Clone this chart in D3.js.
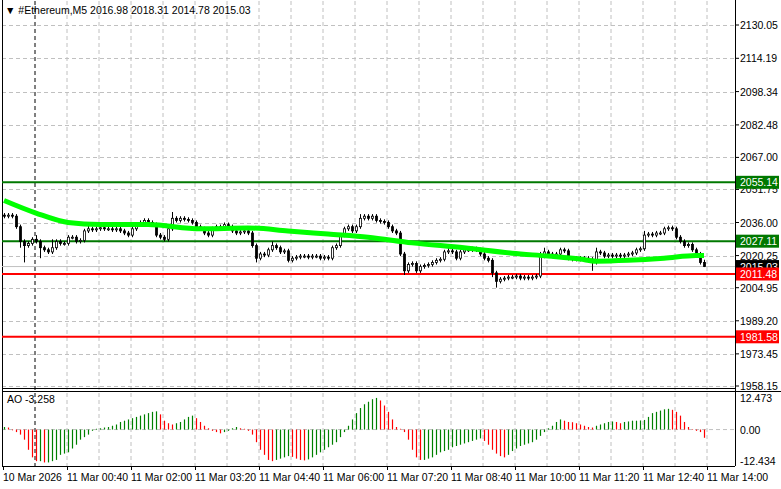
<!DOCTYPE html>
<html><head><meta charset="utf-8">
<script src="https://cdn.jsdelivr.net/npm/d3@7"></script>
<style>body{margin:0;background:#fff}svg{display:block}text{font-family:"Liberation Sans",Arial,sans-serif}</style>
</head><body><svg id="c" width="781" height="489"></svg>
<script>
const closes=[2039,2039.5,2039,2034,2027,2025,2026,2028,2027,2024,
2023,2022,2024,2027,2026,2026,2029,2029,2027,2027.5,
2032,2033,2032.5,2033,2033.5,2033,2033,2032.5,2033,2032,
2031,2030,2033,2035,2036,2037,2036,2035,2030,2029,
2028,2033,2038,2037,2038,2037.5,2037,2036,2034,2033,
2031,2030,2033,2034,2033.5,2035,2034,2032,2031,2031.5,
2032,2031,2025,2019,2021,2020.5,2023,2025,2024,2022,
2022.5,2018,2019,2019.5,2020,2020,2019.5,2020,2020,2019,
2019.5,2019,2024,2025,2030,2033,2034,2032,2034,2038,
2039,2038,2039,2037,2036.5,2036,2034,2032,2031,2021,
2013,2016,2016.5,2013,2015,2015.5,2016,2017,2018,2018.5,
2022,2022.5,2022,2019,2022,2023,2023,2023.5,2023,2021,
2019,2018,2012,2008,2009,2009.5,2010,2010,2010.5,2009.5,
2010,2009.5,2010,2010.5,2020,2022,2021,2020,2021,2023,
2022.5,2019,2018.5,2019,2018.5,2019,2018.5,2017,2022,2021.5,
2020,2020.5,2020,2020.5,2020,2020.5,2021,2021.5,2023,2023.5,
2030,2030.5,2030,2031,2031,2033,2033.5,2033,2029,2027,
2025,2025.5,2023,2021,2016.98,2015.03];
const firstOpen=2039.5;
const wickUp=[1,1,1,1,1,1,1,1,2,1, 1,1,4,1,1,1,1,1,1,1, 1,2,1,1,1,1,1,1,1,1, 1,1,2,1,1,1,1,1,1,1, 1,2,3,1,1,1,1,1,1,1, 1,1,1,1,1,1,1,1,1,1, 1,1,1,1,1,1,1,2,1,1, 1,1,1,1,1,1,1,1,1,1, 1,1,1,1,1,1,1,1,1,2, 1,1,1,1,1,1,1,1,1,1, 1,1,1,1,1,1,1,1,1,1, 1,2,1,1,1,1,1,1,1,1, 1,1,1,1,1,1,1,1,1,1, 1,1,1,1,2,2,1,1,1,1, 1,1,1,1,1,1,1,1,2,1, 1,1,1,1,1,1,1,1,1,1, 2,1,1,1,1,1,1,1,1,1, 1,1,1,1,1,1.3];
const wickDn=[1,1,1,1,3,8,1,1,1,5, 1,1,1,1,1,1,1,1,1,1, 1,1,1,1,1,1,1,1,1,1, 1,1,1,1,1,1,1,1,1,1, 1,1,1,1,1,1,1,1,1,1, 1,1,1,1,1,1,1,1,1,1, 1,1,1,2,1,1,1,1,1,1, 1,1,1,1,1,1,1,1,1,1, 1,1,1,1,1,1,1,1,1,1, 1,1,1,1,1,1,1,1,1,1, 2,1,1,1,1,1,1,1,1,1, 1,1,1,1,1,1,1,1,1,1, 1,1,2,3,1,1,1,1,1,1, 1,1,1,1,1,1,1,1,1,1, 1,1,1,1,1,1,1,4,1,1, 1,1,1,1,1,1,1,1,1,1, 1,1,1,1,1,1,1,1,1,1, 1,1,1,1,1,0.25];
const ao=[1,0.8,-0.3,-1,-2,-4,-8,-11,-12.5,-12.5,
-13,-13,-12.5,-12,-10,-9.5,-9,-7.5,-6,-4,
-3,-2,-0.5,0.3,0.5,0.8,1,1.5,2,3,
3.5,4,4.5,5,5.5,6,6.5,7,7.2,6,
3.5,2.5,2,2.5,3,4,5,5.5,4.5,3,
1.5,0.5,-0.5,-1,-1.5,-1,-0.5,0.5,1,0.5,
0.3,-0.5,-2,-5,-8,-10,-12,-12.5,-12,-11.5,
-11,-10.5,-10.8,-11.5,-12,-12.2,-11.8,-11,-10,-9,
-8,-7,-6,-5,-3,-1,1.5,4,6.5,8.5,
10,11,12,12.5,11.5,9.5,7,4,1,0.3,
-1,-4,-8,-11,-12,-12,-11.5,-11,-10,-9,
-8.5,-8,-7,-6.5,-6,-5.5,-5,-4.5,-4,-3.5,
-4.5,-6,-8,-9.5,-10.5,-11,-10,-8.5,-7.5,-6.5,
-6,-5.5,-5,-4,-2.5,-1,0.5,1.5,3,4,
3.5,3,2.9,2.5,2,1.5,1,0.8,1.5,2,
2.5,3,3.2,3,2.5,3,3.2,3.5,3.5,3.6,
3.8,5,6.5,7,7.5,8,8.2,7.8,7,5.5,
3,1,0.2,-0.5,-1,-3.258];
const maPts=[[0,2046.5],[8,2040.5],[16,2036],[24,2035],[36,2035],[49,2033],[61,2033.4],[71,2032],[81,2030.5],[91,2029],[102,2026.3],[115,2024],[127,2021.4],[136,2020],[144,2018.6],[148,2017.6],[156,2018],[165,2019],[173,2020.3],[175,2020.3]];
const priceTicks=["2130.05","2114.19","2098.34","2082.48","2067.00","2051.75","2036.00","2020.25","2004.95","1989.20","1973.45","1958.15"];
const levels=[{v:2055.14,c:"#007800"},{v:2027.11,c:"#007800"},{v:2011.48,c:"#ff0000"},{v:1981.58,c:"#ff0000"}];
const lastPrice=2015.03;
const timeLabels=["10 Mar 2026","11 Mar 00:40","11 Mar 02:00","11 Mar 03:20","11 Mar 04:40","11 Mar 06:00","11 Mar 07:20","11 Mar 08:40","11 Mar 10:00","11 Mar 11:20","11 Mar 12:40","11 Mar 14:00"];
const aoTicks=[12.473,0,-12.434];

const svg=d3.select("#c");
const R=735;
const x=d3.scaleLinear().domain([0,176]).range([4,708]);
const y=d3.scaleLinear().domain([1958.15,2130.05]).range([386,25]);
const ya=d3.scaleLinear().domain([-12.434,12.473]).range([461,398]);
const g=svg.append("g");
g.selectAll(".vg").data(d3.range(1,23)).join("line").attr("x1",k=>x(k*8)-1).attr("x2",k=>x(k*8)-1).attr("y1",1).attr("y2",466)
 .attr("stroke",k=>k===1?"#000":"#c0c0c0").attr("stroke-dasharray","4,3");
g.selectAll(".hg").data(priceTicks).join("line").attr("x1",2).attr("x2",R).attr("y1",d=>Math.round(y(+d))+0.5).attr("y2",d=>Math.round(y(+d))+0.5).attr("stroke","#c0c0c0").attr("stroke-dasharray","4,3");
g.append("line").attr("x1",2).attr("x2",R).attr("y1",ya(0)).attr("y2",ya(0)).attr("stroke","#c0c0c0").attr("stroke-dasharray","4,3");
g.append("line").attr("x1",R+0.5).attr("x2",R+0.5).attr("y1",0).attr("y2",466).attr("stroke","#000");
g.append("line").attr("x1",2.5).attr("x2",2.5).attr("y1",0).attr("y2",466).attr("stroke","#000");
g.append("line").attr("x1",2).attr("x2",R).attr("y1",388.5).attr("y2",388.5).attr("stroke","#000");
g.append("line").attr("x1",2).attr("x2",781).attr("y1",391.5).attr("y2",391.5).attr("stroke","#000");
g.append("line").attr("x1",2).attr("x2",R).attr("y1",466.5).attr("y2",466.5).attr("stroke","#000");
g.append("line").attr("x1",2).attr("x2",R).attr("y1",y(lastPrice)).attr("y2",y(lastPrice)).attr("stroke","#c0c0c0");
g.selectAll(".lv").data(levels).join("line").attr("x1",2).attr("x2",R).attr("y1",d=>y(d.v)).attr("y2",d=>y(d.v)).attr("stroke",d=>d.c).attr("stroke-width",2);
const candles=closes.map((c,i)=>{const o=i===0?firstOpen:closes[i-1];return {i,o,c,h:Math.max(o,c)+wickUp[i],l:Math.min(o,c)-wickDn[i]};});
const cg=g.append("g");
cg.selectAll(".w").data(candles).join("line").attr("x1",d=>x(d.i)+0.5).attr("x2",d=>x(d.i)+0.5).attr("y1",d=>y(d.h)).attr("y2",d=>y(d.l)).attr("stroke","#000");
cg.selectAll(".b").data(candles).join("rect").attr("x",d=>x(d.i)-0.5).attr("width",2)
 .attr("y",d=>y(Math.max(d.o,d.c))).attr("height",d=>Math.max(1,Math.abs(y(d.o)-y(d.c))))
 .attr("fill",d=>d.c>=d.o?"#fff":"#000").attr("stroke","#000").attr("stroke-width",0.8);
g.append("path").datum(maPts).attr("fill","none").attr("stroke","#00ff00").attr("stroke-width",5)
 .attr("d",d3.line().x(d=>x(d[0])).y(d=>y(d[1])).curve(d3.curveMonotoneX));
g.selectAll(".ao").data(ao).join("line").attr("x1",(d,i)=>x(i)+0.5).attr("x2",(d,i)=>x(i)+0.5)
 .attr("y1",ya(0)).attr("y2",d=>ya(d)).attr("stroke",(d,i)=>i>0&&d<ao[i-1]?"#ff0000":"#008000").attr("stroke-width",1.2);
g.selectAll(".pt").data(priceTicks).join("text").attr("x",740).attr("y",d=>y(+d)+4).attr("font-size",10.5).text(d=>d);
g.selectAll(".ptk").data(priceTicks).join("line").attr("x1",R).attr("x2",R+4).attr("y1",d=>y(+d)).attr("y2",d=>y(+d)).attr("stroke","#000");
g.selectAll(".at").data(aoTicks).join("text").attr("x",740).attr("y",d=>ya(d)+4).attr("font-size",10.5).text(d=>d.toFixed(d===0?2:3));
function box(v,c){const yy=y(v);g.append("rect").attr("x",736).attr("y",yy-6.5).attr("width",43).attr("height",13).attr("fill",c);
 g.append("text").attr("x",740).attr("y",yy+4).attr("font-size",10.5).attr("fill","#fff").text(v.toFixed(2));}
box(lastPrice,"#000");
levels.forEach(l=>box(l.v,l.c==="#ff0000"?"#ff0000":"#007800"));
g.selectAll(".tl").data(timeLabels).join("text").attr("x",(d,i)=>x(i*16)-1).attr("y",481).attr("font-size",10.5).text(d=>d);
g.selectAll(".tk").data(timeLabels).join("line").attr("x1",(d,i)=>x(i*16)-0.5).attr("x2",(d,i)=>x(i*16)-0.5).attr("y1",466).attr("y2",470).attr("stroke","#000");
g.append("text").attr("x",5).attr("y",14).attr("font-size",10.5).text("▼ #Ethereum,M5  2016.98 2018.31 2014.78 2015.03");
g.append("text").attr("x",7).attr("y",403).attr("font-size",10.5).text("AO -3.258");
</script></body></html>
